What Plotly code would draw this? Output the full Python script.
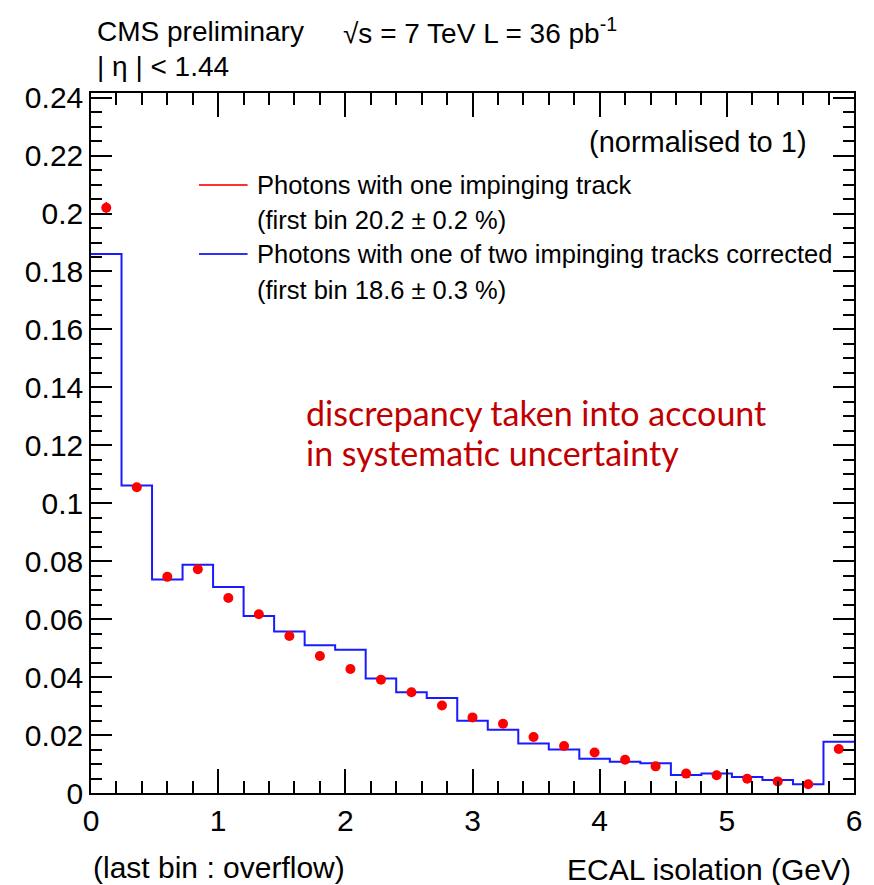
import plotly.graph_objects as go

# ---- data ----
bin_width = 0.24
bin_edges = [round(i * bin_width, 2) for i in range(26)]
bin_centers = [round((i + 0.5) * bin_width, 2) for i in range(25)]

one_track = [0.2020, 0.1055, 0.0746, 0.0772, 0.0673, 0.0617, 0.0542, 0.0473, 0.0428,
             0.0391, 0.0348, 0.0302, 0.0261, 0.0239, 0.0193, 0.0162, 0.0140, 0.0115,
             0.0092, 0.0067, 0.0061, 0.0049, 0.0040, 0.0030, 0.0152]
one_track_err = [0.002] + [0.0008] * 24

two_tracks_corr = [0.1860, 0.1061, 0.0737, 0.0788, 0.0711, 0.0611, 0.0557, 0.0510, 0.0494,
                   0.0395, 0.0348, 0.0328, 0.0249, 0.0218, 0.0171, 0.0150, 0.0118, 0.0108,
                   0.0103, 0.0062, 0.0067, 0.0055, 0.0045, 0.0030, 0.0177]

x_ticks = [0, 1, 2, 3, 4, 5, 6]

FONT = "Liberation Sans, Arial, sans-serif"

# plot area in pixels
L, R, T, B = 91, 861, 93, 793
W, H = 874, 885


def px(x):
    return (x - L) / (R - L)


def py(y):
    return (B - y) / (B - T)


fig = go.Figure()

fig.add_trace(go.Scatter(
    x=bin_edges, y=two_tracks_corr + [two_tracks_corr[-1]],
    mode="lines", line=dict(color="#1a1aff", width=2, shape="hv"),
    showlegend=False, hoverinfo="skip"))

fig.add_trace(go.Scatter(
    x=bin_centers, y=one_track, mode="markers",
    marker=dict(color="#ff0000", size=10),
    error_y=dict(type="data", array=one_track_err, color="#ff0000", thickness=1.5, width=0),
    showlegend=False))

axis_common = dict(
    showline=True, linecolor="black", linewidth=1.5, mirror="ticks",
    ticks="inside", tickcolor="black", tickwidth=1.5,
    showgrid=False, zeroline=False,
    tickfont=dict(family=FONT, size=30, color="black"),
)

fig.update_xaxes(range=[0, 6], tickvals=x_ticks, ticklen=24,
                 minor=dict(dtick=0.2, ticklen=12, ticks="inside", tickcolor="black",
                            tickwidth=1.5, showgrid=False),
                 **axis_common)
fig.update_yaxes(range=[0, 0.2416], dtick=0.02, ticklen=21,
                 minor=dict(dtick=0.005, ticklen=11, ticks="inside", tickcolor="black",
                            tickwidth=1.5, showgrid=False),
                 **axis_common)

annotations = []
shapes = []


def text(x, y, s, size, anchor="left", color="black", family=FONT):
    annotations.append(dict(x=px(x), y=py(y), xref="paper", yref="paper", text=s,
                            showarrow=False, xanchor=anchor, yanchor="middle",
                            font=dict(family=family, size=size, color=color)))


text(95, 31, "CMS preliminary", 28)
text(343, 31, "√s = 7 TeV L = 36 pb<sup>-1</sup>", 28)
text(95, 66, "| η | < 1.44", 28)
text(816, 142, "(normalised to 1)", 29, anchor="right")

legend_rows = [("Photons with one impinging track", 185, "#ff3030"),
               ("(first bin 20.2 ± 0.2 %)", 220, None),
               ("Photons with one of two impinging tracks corrected", 254, "#3030ff"),
               ("(first bin 18.6 ± 0.3 %)", 290, None)]
for label, yy, col in legend_rows:
    text(257, yy, label, 25.5)
    if col:
        shapes.append(dict(type="line", xref="paper", yref="paper",
                           x0=px(200), x1=px(249), y0=py(yy), y1=py(yy),
                           line=dict(color=col, width=2)))

text(306, 412, "discrepancy taken into account", 34, color="#c00000",
     family="Lato, Open Sans, sans-serif")
text(306, 452, "in systematic uncertainty", 34, color="#c00000",
     family="Lato, Open Sans, sans-serif")

text(91, 867, "(last bin : overflow)", 30)
text(860, 869, "ECAL isolation (GeV)", 30, anchor="right")

fig.update_layout(
    width=W, height=H,
    margin=dict(l=L, r=W - R, t=T, b=H - B),
    paper_bgcolor="white", plot_bgcolor="white",
    annotations=annotations, shapes=shapes,
    showlegend=False,
)

fig.write_html("out.html")
